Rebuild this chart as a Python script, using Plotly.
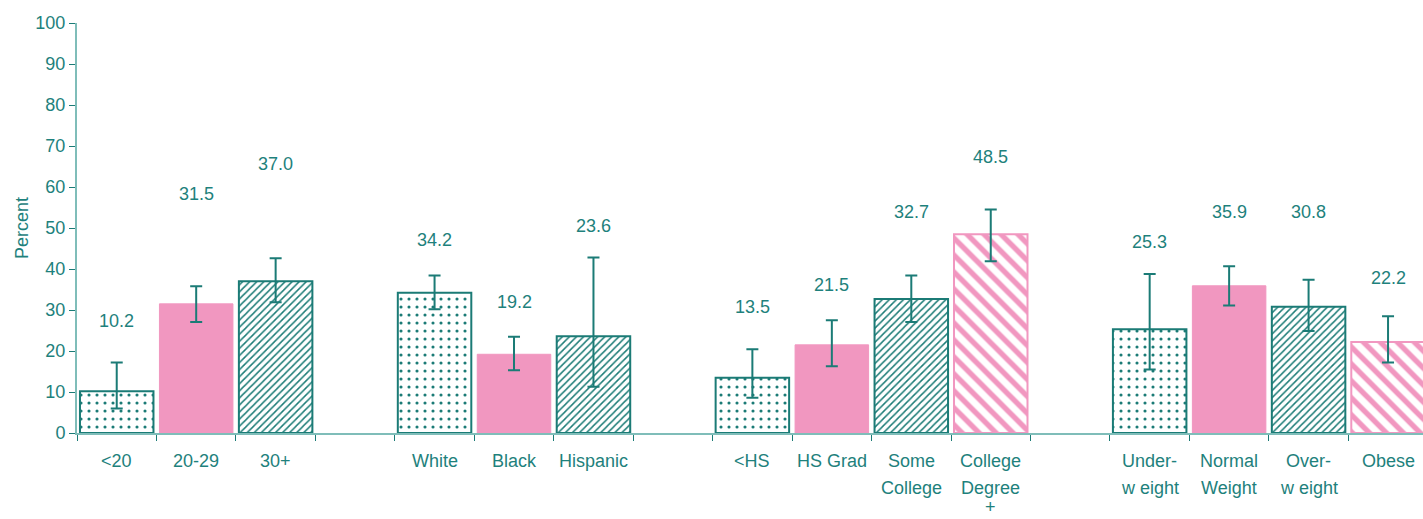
import plotly.graph_objects as go

# ---- data ----
categories = ["<20", "20-29", "30+", " ",
              "White", "Black", "Hispanic", "  ",
              "<HS", "HS Grad", "Some\nCollege", "College\nDegree\n+", "   ",
              "Under-\nw eight", "Normal\nWeight", "Over-\nw eight", "Obese"]
values = [10.2, 31.5, 37.0, None,
          34.2, 19.2, 23.6, None,
          13.5, 21.5, 32.7, 48.5, None,
          25.3, 35.9, 30.8, 22.2]
ci_low = [6.0, 27.1, 31.9, None,
          30.2, 15.3, 11.3, None,
          8.6, 16.3, 27.1, 41.9, None,
          15.5, 31.1, 24.9, 17.2]
ci_high = [17.2, 35.8, 42.6, None,
           38.4, 23.5, 42.8, None,
           20.4, 27.5, 38.4, 54.5, None,
           38.8, 40.7, 37.4, 28.5]
label_y = [27.3, 58.4, 65.7, None,
           47.0, 31.9, 50.6, None,
           30.7, 36.0, 53.8, 67.2, None,
           46.7, 54.0, 54.0, 37.9]
styles = ["dots", "pink", "teal_hatch", None,
          "dots", "pink", "teal_hatch", None,
          "dots", "pink", "teal_hatch", "pink_hatch", None,
          "dots", "pink", "teal_hatch", "pink_hatch"]

TEAL = "#1b7b76"
TEXT = "#1e817c"
PINK = "#f197c0"
AXIS = "#7fbdb9"
FONT = "Liberation Sans, Arial"

style_map = {
    "dots": dict(shape=".", fg=TEAL, line=TEAL, color=TEAL, size=8, sol=0.12),
    "pink": dict(shape="", fg=PINK, line=PINK, color=PINK, size=8, sol=0.3),
    "teal_hatch": dict(shape="/", fg=TEAL, line=TEAL, color=TEAL, size=5, sol=0.3),
    "pink_hatch": dict(shape="\\", fg=PINK, line=PINK, color=PINK, size=12, sol=0.45),
    None: dict(shape="", fg=TEAL, line=TEAL, color=TEAL, size=8, sol=0.3),
}

shapes_p = [style_map[s]["shape"] for s in styles]
fg = [style_map[s]["fg"] for s in styles]
lc = [style_map[s]["line"] for s in styles]
mc = [style_map[s]["color"] for s in styles]
psize = [style_map[s]["size"] for s in styles]
psol = [style_map[s]["sol"] for s in styles]
lw = [1 if s == "pink" else 2 for s in styles]

xcats = [c.replace("\n", "") if c.strip() else c for c in categories]

plus = [(h - v) if v is not None else 0 for v, h in zip(values, ci_high)]
minus = [(v - l) if v is not None else 0 for v, l in zip(values, ci_low)]

fig = go.Figure()
fig.add_trace(go.Bar(
    x=xcats, y=values,
    marker=dict(color=mc,
                line=dict(color=lc, width=lw),
                pattern=dict(shape=shapes_p, fgcolor=fg, bgcolor="white",
                             size=psize, solidity=psol, fillmode="replace")),
    error_y=dict(type="data", symmetric=False, array=plus, arrayminus=minus,
                 color=TEAL, thickness=2, width=6),
    hoverinfo="skip",
))

# value labels
for x, v, ly in zip(xcats, values, label_y):
    if v is None:
        continue
    fig.add_annotation(x=x, y=ly, xref="x", yref="y", text=f"{v:.1f}",
                       showarrow=False, font=dict(size=18, color=TEXT, family=FONT))

# category labels (multi-line, wide spacing; keep last line inside the page)
for x, c in zip(xcats, categories):
    if not c.strip():
        continue
    for i, line in enumerate(c.split("\n")):
        shift = min(28 + 27 * i, 74)
        fig.add_annotation(x=x, y=0, xref="x", yref="paper", text=line,
                           showarrow=False, yanchor="middle", yshift=-shift,
                           font=dict(size=18, color=TEXT, family=FONT))

fig.update_layout(
    width=1423, height=519,
    margin=dict(l=77, r=0, t=23, b=86),
    plot_bgcolor="white", paper_bgcolor="white",
    showlegend=False, bargap=0.075,
    font=dict(family=FONT, size=18, color=TEXT),
    xaxis=dict(type="category", categoryorder="array", categoryarray=xcats,
               range=[-0.5, 16.44], showticklabels=False,
               tickson="boundaries", ticks="outside", ticklen=6,
               tickcolor=TEAL, tickwidth=1,
               showline=True, linecolor=AXIS, linewidth=2,
               showgrid=False, zeroline=False),
    yaxis=dict(range=[0, 100], dtick=10, ticks="outside", ticklen=6,
               tickcolor=TEAL, tickwidth=1,
               showline=True, linecolor=AXIS, linewidth=2,
               showgrid=False, zeroline=False,
               tickfont=dict(size=18, color=TEXT, family=FONT),
               title=dict(text="Percent", font=dict(size=18, color=TEXT, family=FONT),
                          standoff=2)),
)

fig.write_html("out.html")
